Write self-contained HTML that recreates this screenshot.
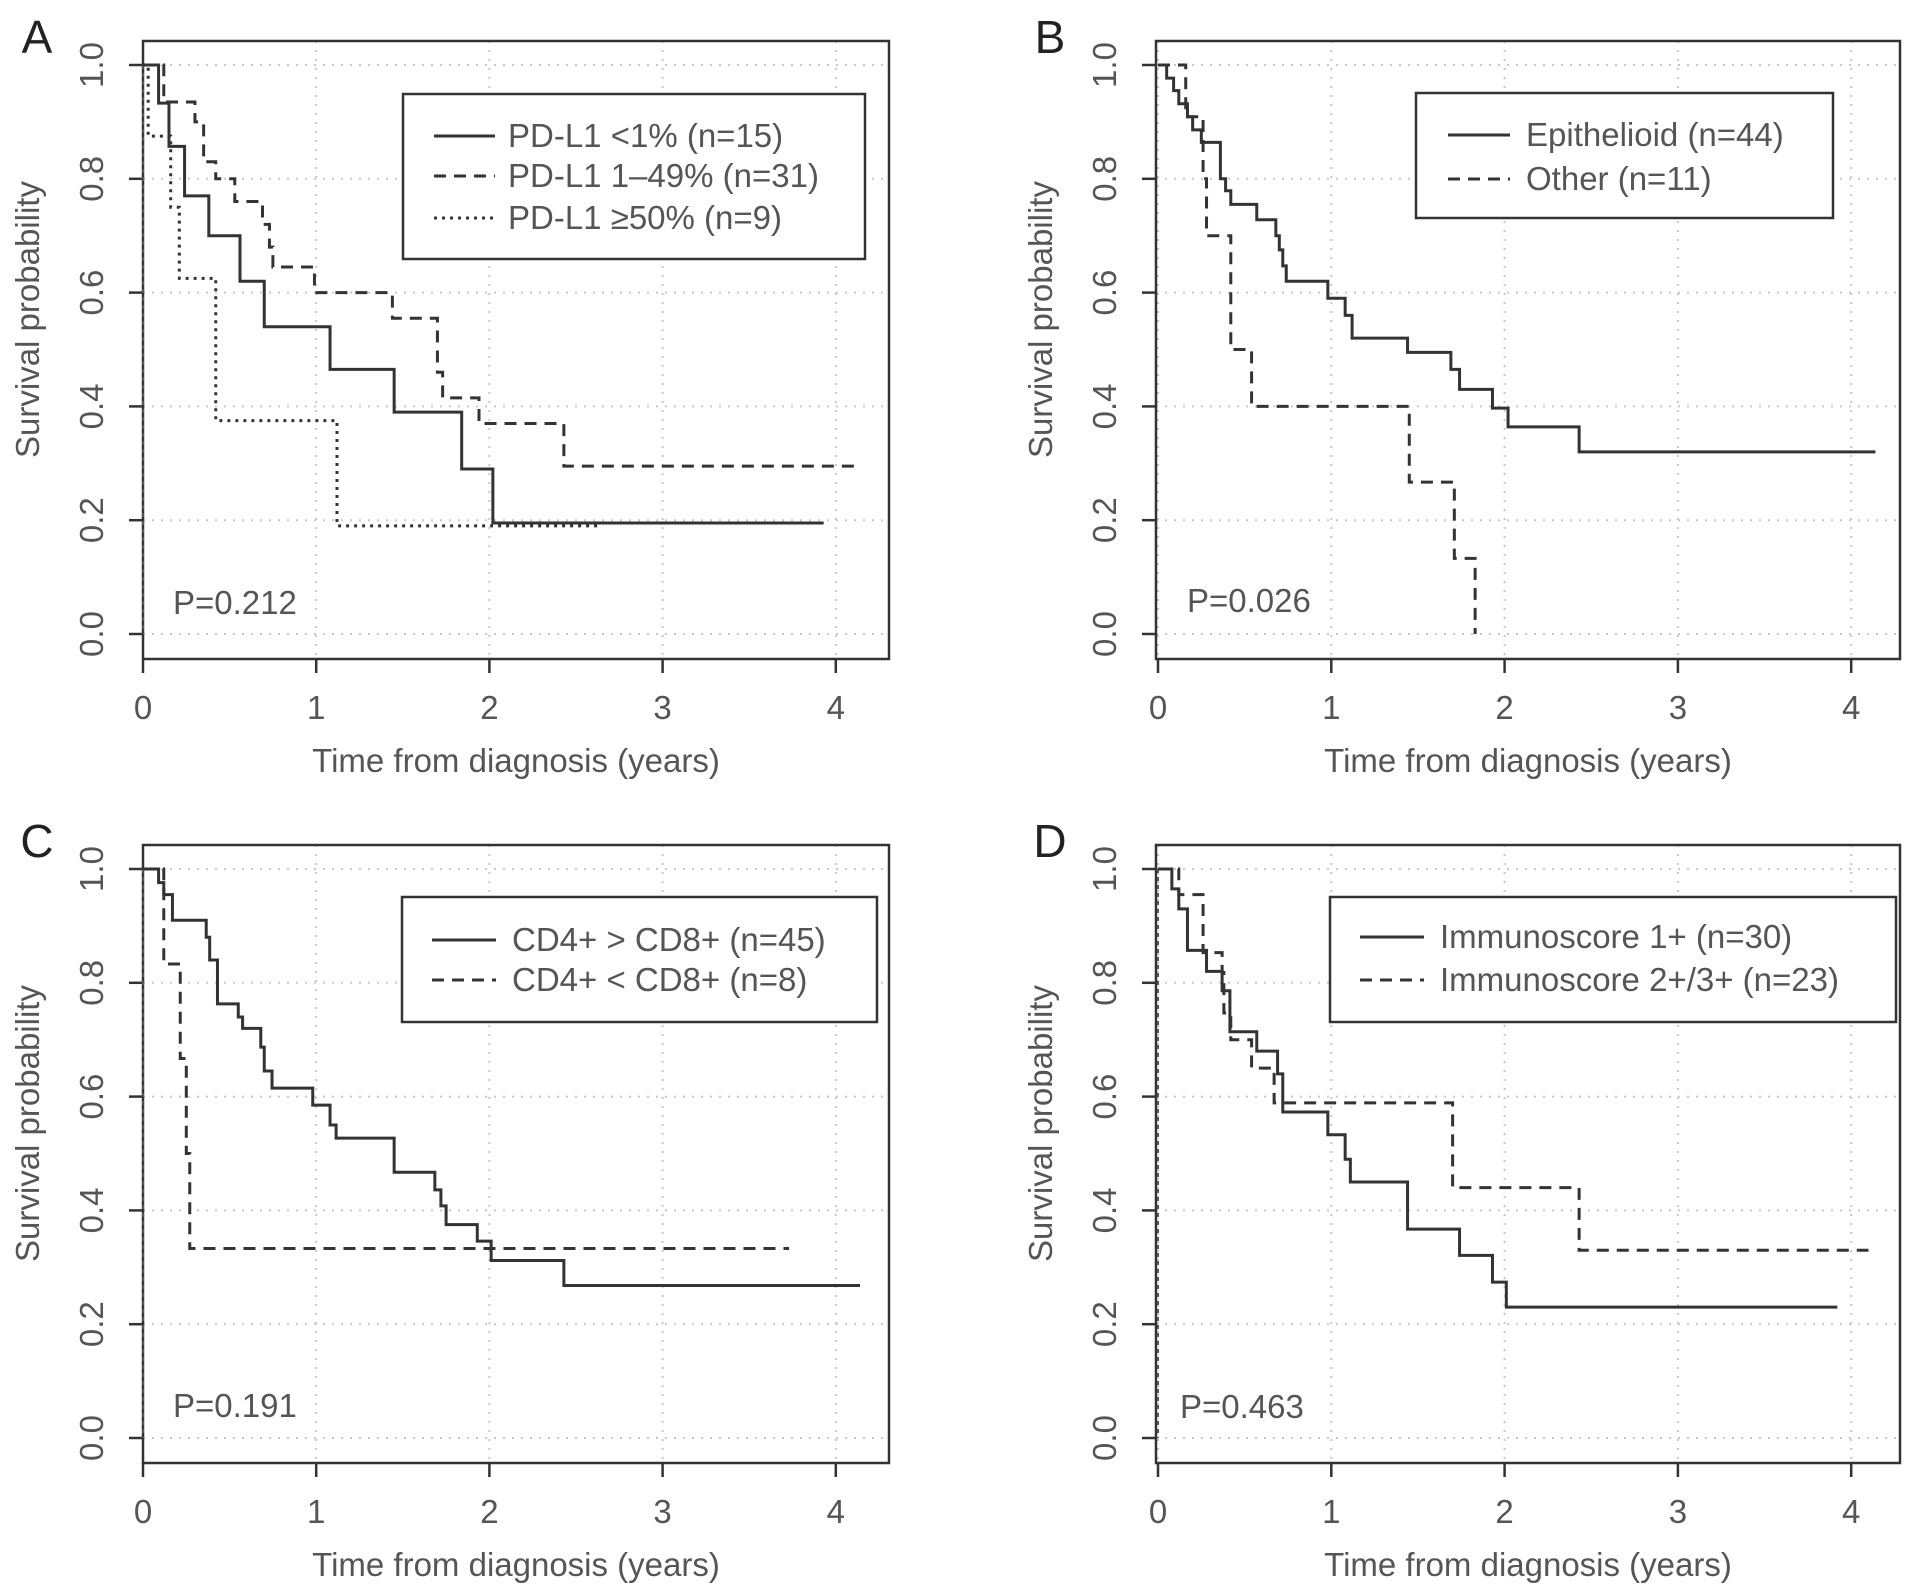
<!DOCTYPE html>
<html><head><meta charset="utf-8"><style>
html,body{margin:0;padding:0;background:#fff}
svg{display:block}
text{font-family:"Liberation Sans",sans-serif;fill:#555}
</style></head><body>
<svg id="fig" width="1913" height="1590" viewBox="0 0 1913 1590" xmlns="http://www.w3.org/2000/svg"></svg>
<script>
// ---- data (time in years, survival probability) ----
const xTicks = [0,1,2,3,4];
const yTicks = [0.0,0.2,0.4,0.6,0.8,1.0];
const yTickLabels = ["0.0","0.2","0.4","0.6","0.8","1.0"];
// Panel A
const aLowT = [0.09,0.15,0.24,0.38,0.56,0.70,1.08,1.45,1.84,2.02];
const aLowS = [0.933,0.857,0.77,0.70,0.62,0.54,0.465,0.39,0.29,0.195];
const aLowEnd = 3.93;
const aMidT = [0.12,0.30,0.35,0.42,0.53,0.69,0.73,0.75,0.99,1.44,1.70,1.73,1.94,2.43];
const aMidS = [0.935,0.90,0.83,0.80,0.76,0.72,0.68,0.645,0.60,0.555,0.46,0.415,0.37,0.295];
const aMidEnd = 4.11;
const aHighT = [0.03,0.16,0.21,0.42,1.12];
const aHighS = [0.875,0.75,0.625,0.375,0.19];
const aHighEnd = 2.65;
// Panel B
const bEpiT = [0.05,0.09,0.12,0.17,0.20,0.25,0.36,0.39,0.42,0.57,0.68,0.70,0.72,0.74,0.98,1.08,1.12,1.44,1.69,1.74,1.93,2.02,2.43];
const bEpiS = [0.977,0.955,0.932,0.909,0.886,0.864,0.80,0.779,0.755,0.728,0.70,0.675,0.647,0.62,0.59,0.56,0.52,0.495,0.465,0.43,0.397,0.364,0.32];
const bEpiEnd = 4.14;
const bOthT = [0.16,0.26,0.28,0.42,0.54,1.45,1.71,1.83];
const bOthS = [0.909,0.80,0.70,0.50,0.40,0.267,0.133,0.0];
const bOthEnd = 1.83;
// Panel C
const cHiT = [0.09,0.12,0.17,0.365,0.385,0.43,0.55,0.575,0.68,0.70,0.745,0.98,1.08,1.115,1.45,1.685,1.72,1.75,1.93,2.01,2.43];
const cHiS = [0.976,0.955,0.91,0.88,0.84,0.763,0.74,0.72,0.687,0.645,0.615,0.585,0.55,0.527,0.467,0.436,0.408,0.375,0.346,0.312,0.268];
const cHiEnd = 4.14;
const cLoT = [0.12,0.215,0.25,0.27];
const cLoS = [0.833,0.667,0.5,0.333];
const cLoEnd = 3.73;
// Panel D
const d1T = [0.08,0.12,0.17,0.28,0.37,0.415,0.57,0.69,0.72,0.98,1.08,1.11,1.44,1.74,1.93,2.01];
const d1S = [0.965,0.93,0.857,0.82,0.786,0.714,0.68,0.64,0.573,0.533,0.49,0.45,0.367,0.321,0.274,0.23];
const d1End = 3.92;
const d2T = [0.12,0.26,0.37,0.38,0.42,0.54,0.67,1.70,2.43];
const d2S = [0.955,0.853,0.818,0.747,0.70,0.65,0.589,0.44,0.33];
const d2End = 4.10;

const NS = "http://www.w3.org/2000/svg";
const svgRoot = document.getElementById('fig');
function mk(tag, attrs, parent){
  const e = document.createElementNS(NS, tag);
  for (const k in attrs) e.setAttribute(k, attrs[k]);
  (parent||svgRoot).appendChild(e);
  return e;
}
const DASH = {solid:null, dashed:"12,8", dotted:"3,5"};
const FS = 33;

function panel(cfg){
  const g = mk('g', {});
  
  
  const X = t => cfg.x0 + t * cfg.xs;
  const Y = s => cfg.y0 - s * (cfg.y0 - cfg.y1);
  xTicks.forEach(t => { const l = mk('line',{x1:X(t),x2:X(t),y1:cfg.T,y2:cfg.B,stroke:'#c8c8c8','stroke-width':2,'stroke-dasharray':'2,7'},g);
      });
  yTicks.forEach(s => { const l = mk('line',{x1:cfg.L,x2:cfg.R,y1:Y(s),y2:Y(s),stroke:'#c8c8c8','stroke-width':2,'stroke-dasharray':'2,7'},g);
      });
  const box = mk('rect',{x:cfg.L,y:cfg.T,width:cfg.R-cfg.L,height:cfg.B-cfg.T,fill:'none',stroke:'#333','stroke-width':2.5},g);
   
  xTicks.forEach(t => {
    mk('line',{x1:X(t),x2:X(t),y1:cfg.B,y2:cfg.B+14,stroke:'#333','stroke-width':2.5},g);
    const tx = mk('text',{x:X(t),y:cfg.B+60,'font-size':FS,'text-anchor':'middle'},g);
    tx.textContent = t;
     
  });
  yTicks.forEach((s,i) => {
    mk('line',{x1:cfg.L-14,x2:cfg.L,y1:Y(s),y2:Y(s),stroke:'#333','stroke-width':2.5},g);
    const tx = mk('text',{x:0,y:0,'font-size':FS,'text-anchor':'middle',transform:`translate(${cfg.L-40},${Y(s)}) rotate(-90)`},g);
    tx.textContent = yTickLabels[i];
     
  });
  const xt = mk('text',{x:(cfg.L+cfg.R)/2,y:cfg.B+113,'font-size':FS,'text-anchor':'middle'},g);
  xt.textContent = 'Time from diagnosis (years)';
   
  const yt = mk('text',{x:0,y:0,'font-size':FS,'text-anchor':'middle',transform:`translate(${cfg.L-104},${(cfg.y0+cfg.y1)/2-30}) rotate(-90)`},g);
  yt.textContent = 'Survival probability';
   
  const lt = mk('text',{x:cfg.L-106,y:cfg.T+12,'font-size':46,'text-anchor':'middle',style:'fill:#222'},g);
  lt.textContent = cfg.letter;
   
  if (cfg.zeroLine){
    const z = mk('line',{x1:X(0),x2:X(0),y1:Y(1),y2:Y(0),stroke:'#555','stroke-width':2,'stroke-dasharray':'4,4'},g);
     
  }
  cfg.series.forEach(sr => {
    let d = `M${X(0)},${Y(1)}`;
    for (let i=0;i<sr.t.length;i++){ d += ` H${X(sr.t[i])} V${Y(sr.s[i])}`; }
    d += ` H${X(sr.end)}`;
    const p = mk('path',{d:d,fill:'none',stroke:'#333','stroke-width':3},g);
    if (DASH[sr.style]) p.setAttribute('stroke-dasharray', DASH[sr.style]);
    
    
  });
  const lg = cfg.legend;
  const lgG = mk('g',{},g);
   
  mk('rect',{x:lg.x1,y:lg.y1,width:lg.x2-lg.x1,height:lg.y2-lg.y1,fill:'#fff',stroke:'#333','stroke-width':2.5},lgG);
  cfg.series.forEach((sr,i) => {
    const e = mk('g',{},lgG);
     
    const ln = mk('line',{x1:lg.lx1,x2:lg.lx2,y1:lg.rows[i],y2:lg.rows[i],stroke:'#333','stroke-width':3},e);
    if (DASH[sr.style]) ln.setAttribute('stroke-dasharray', DASH[sr.style]);
    const tx = mk('text',{x:lg.tx,y:lg.rows[i]+11,'font-size':FS},e);
    tx.textContent = sr.label;
  });
  const pv = mk('text',{x:cfg.p[0],y:cfg.p[1],'font-size':FS},g);
  pv.textContent = cfg.pText;
   
}

const rowTop = {T:41,B:659,y1:65,y0:634};
const rowBot = {T:845,B:1463,y1:869,y0:1438};
const colLeft = {L:143,R:889,x0:143,xs:173.2};
const colRight = {L:1156,R:1900,x0:1158,xs:173.3};

panel(Object.assign({letter:'A',zeroLine:true,pText:'P=0.212',p:[173,614],
  legend:{x1:403,x2:865,y1:94,y2:259,rows:[136,176,218],lx1:434,lx2:495,tx:508},
  series:[
    {name:'curve-pdl1-lt1',label:'PD-L1 <1% (n=15)',style:'solid',t:aLowT,s:aLowS,end:aLowEnd},
    {name:'curve-pdl1-1-49',label:'PD-L1 1\u201349% (n=31)',style:'dashed',t:aMidT,s:aMidS,end:aMidEnd},
    {name:'curve-pdl1-ge50',label:'PD-L1 \u226550% (n=9)',style:'dotted',t:aHighT,s:aHighS,end:aHighEnd}
  ]}, rowTop, colLeft));
panel(Object.assign({letter:'B',zeroLine:false,pText:'P=0.026',p:[1187,612],
  legend:{x1:1416,x2:1833,y1:93,y2:218,rows:[135,179],lx1:1448,lx2:1510,tx:1526},
  series:[
    {name:'curve-epithelioid',label:'Epithelioid (n=44)',style:'solid',t:bEpiT,s:bEpiS,end:bEpiEnd},
    {name:'curve-other',label:'Other (n=11)',style:'dashed',t:bOthT,s:bOthS,end:bOthEnd}
  ]}, rowTop, colRight));
panel(Object.assign({letter:'C',zeroLine:true,pText:'P=0.191',p:[173,1417],
  legend:{x1:402,x2:877,y1:897,y2:1022,rows:[940,980],lx1:432,lx2:496,tx:512},
  series:[
    {name:'curve-cd4-gt-cd8',label:'CD4+ > CD8+ (n=45)',style:'solid',t:cHiT,s:cHiS,end:cHiEnd},
    {name:'curve-cd4-lt-cd8',label:'CD4+ < CD8+ (n=8)',style:'dashed',t:cLoT,s:cLoS,end:cLoEnd}
  ]}, rowBot, colLeft));
panel(Object.assign({letter:'D',zeroLine:true,pText:'P=0.463',p:[1180,1418],
  legend:{x1:1330,x2:1896,y1:897,y2:1022,rows:[937,980],lx1:1360,lx2:1424,tx:1440},
  series:[
    {name:'curve-immunoscore-1',label:'Immunoscore 1+ (n=30)',style:'solid',t:d1T,s:d1S,end:d1End},
    {name:'curve-immunoscore-2-3',label:'Immunoscore 2+/3+ (n=23)',style:'dashed',t:d2T,s:d2S,end:d2End}
  ]}, rowBot, colRight));
</script>
</body></html>
